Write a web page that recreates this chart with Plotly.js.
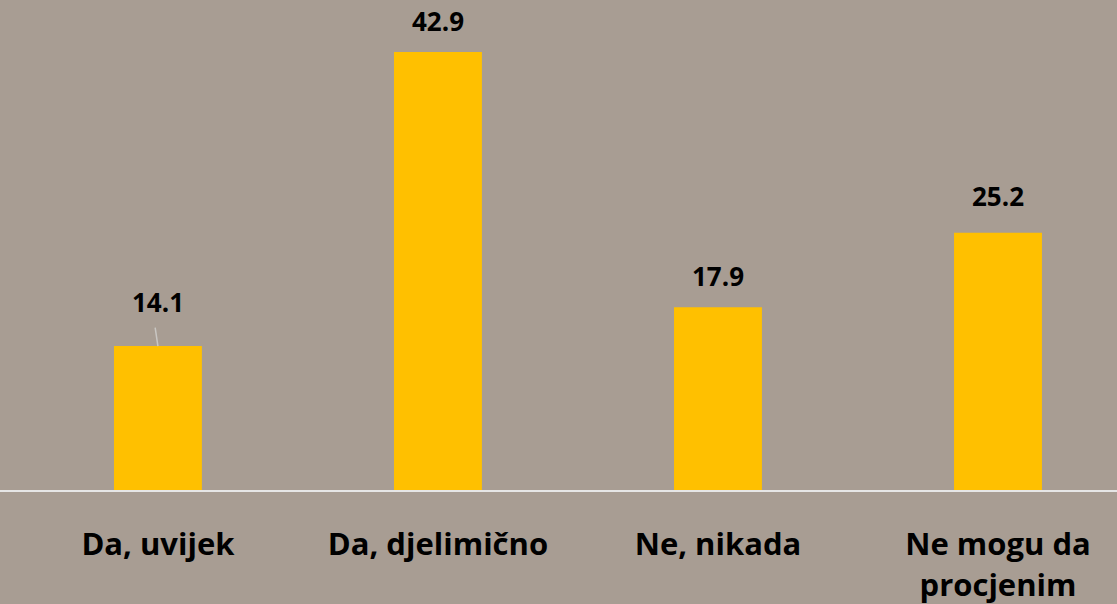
<!DOCTYPE html>
<html>
<head>
<meta charset="utf-8">
<script src="https://cdn.plot.ly/plotly-3.0.1.min.js"></script>
<style>html,body{margin:0;padding:0;background:#a89d93;}#chart{width:1117px;height:604px;}</style>
</head>
<body>
<div id="chart"></div>
<script>
const categories = ["Da, uvijek", "Da, djelimično", "Ne, nikada", "Ne mogu da<br>procjenim"];
const values = [14.1, 42.9, 17.9, 25.2];
const valueLabels = ["14.1", "42.9", "17.9", "25.2"];

const FONT = "'Open Sans', Lato, sans-serif";
const labelOffsets = [44, 31, 31, 37];  // px from bar top to label centre (styling)

const trace = {
  type: "bar",
  x: [0, 1, 2, 3],
  y: values,
  marker: {color: "#FFC000"},
  width: 0.314,
  hoverinfo: "none"
};
const annotations = values.map((v, i) => ({
  x: i, y: v, xref: "x", yref: "y",
  text: "<b>" + valueLabels[i] + "</b>",
  showarrow: false, yanchor: "middle", yshift: labelOffsets[i],
  font: {family: FONT, size: 26, color: "#000"}
}));
// thin leader line above the first bar
annotations.push({
  x: 0, y: values[0], xref: "x", yref: "y", text: "",
  showarrow: true, arrowhead: 0, arrowwidth: 1.5, arrowcolor: "#c9c6c2",
  ax: -3, ay: -20, standoff: 0
});
const layout = {
  width: 1117, height: 604,
  margin: {l: 0, r: 0, t: 0, b: 114},
  paper_bgcolor: "#a89d93",
  plot_bgcolor: "rgba(0,0,0,0)",
  showlegend: false,
  xaxis: {
    range: [-0.564, 3.425],
    tickmode: "array",
    tickvals: [0, 1, 2, 3],
    ticktext: categories.map(c => "<b>" + c.replace("<br>", "</b><br><b>") + "</b>"),
    tickfont: {family: FONT, size: 31, color: "#000"},
    ticks: "",
    ticklabelstandoff: 26,
    showline: true, linecolor: "#e6e6e6", linewidth: 2,
    showgrid: false, zeroline: false, fixedrange: true
  },
  yaxis: {
    range: [0, 48],
    visible: false, showgrid: false, zeroline: false, fixedrange: true
  },
  annotations: annotations
};
Plotly.newPlot("chart", [trace], layout, {displayModeBar: false, staticPlot: true});
</script>
</body>
</html>
